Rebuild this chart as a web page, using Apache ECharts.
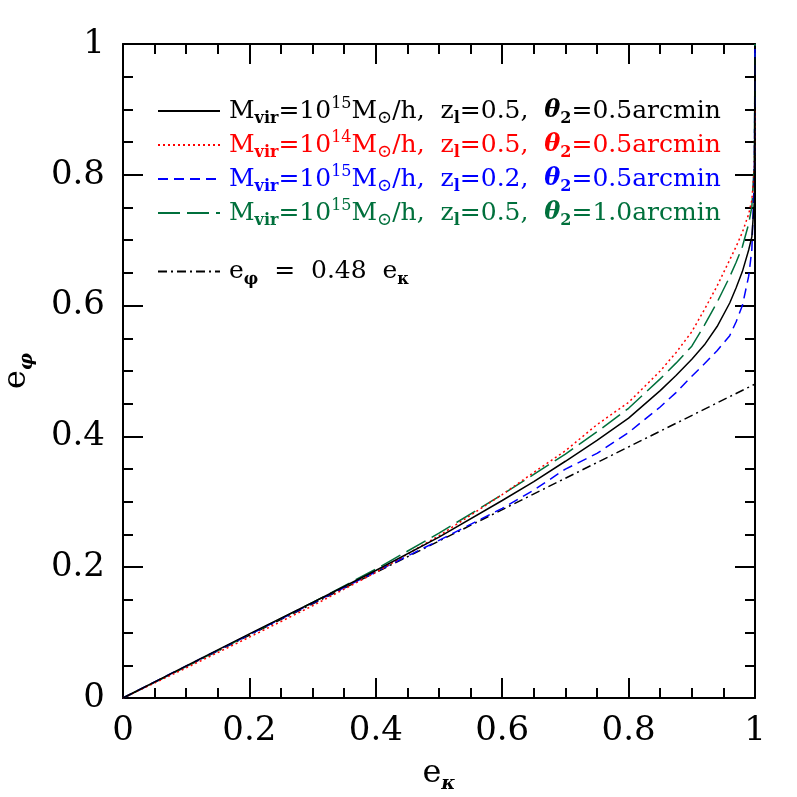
<!DOCTYPE html>
<html>
<head>
<meta charset="utf-8">
<script src="https://cdn.jsdelivr.net/npm/echarts@6/dist/echarts.min.js"></script>
<style>
  html, body { margin: 0; padding: 0; background: #fff; }
  #chart { width: 797px; height: 797px; }
</style>
</head>
<body>
<div id="chart"></div>
<script>
// e_kappa samples shared by the four model curves
const ekValues = [0, 0.1, 0.2, 0.3, 0.4, 0.5, 0.6, 0.65, 0.7, 0.75, 0.8, 0.85, 0.875, 0.9, 0.92, 0.94, 0.96, 0.97, 0.98, 0.99, 0.995, 0.999, 1];

// e_phi
const blackSolid = [0, 0.049, 0.098, 0.146, 0.195, 0.246, 0.302, 0.331, 0.362, 0.394, 0.428, 0.470, 0.493, 0.518, 0.540, 0.568, 0.604, 0.627, 0.652, 0.685, 0.705, 0.76, 0.98];
const redDotted  = [0, 0.046, 0.093, 0.141, 0.192, 0.248, 0.311, 0.345, 0.378, 0.418, 0.452, 0.500, 0.528, 0.560, 0.594, 0.630, 0.670, 0.690, 0.712, 0.740, 0.761, 0.81, 0.90];
const blueDashed = [0, 0.049, 0.097, 0.145, 0.193, 0.241, 0.290, 0.318, 0.350, 0.374, 0.406, 0.445, 0.467, 0.492, 0.511, 0.531, 0.554, 0.575, 0.600, 0.645, 0.685, 0.80, 1.0];
const greenLong  = [0, 0.048, 0.097, 0.146, 0.197, 0.252, 0.311, 0.342, 0.373, 0.407, 0.443, 0.488, 0.512, 0.538, 0.570, 0.605, 0.644, 0.666, 0.690, 0.725, 0.751, 0.82, 1.0];

// e_phi = 0.48 e_kappa
const fitX = [0, 1];
const fitY = [0, 0.48];

const xTicks = [0, 0.2, 0.4, 0.6, 0.8, 1];
const yTicks = [0, 0.2, 0.4, 0.6, 0.8, 1];

const serif = "DejaVu Serif";

const toPairs = (xs, ys) => xs.map((x, i) => [x, ys[i]]);

const legendLabels = {
  m15z05t05: "{t|M}{sub|vir}{t|=10}{sup|15}{t|M}{sub2|⊙}{t|/h,  z}{sub|l}{t|=0.5,  }{th|θ}{sub|2}{t|=0.5arcmin}",
  m14z05t05: "{t|M}{sub|vir}{t|=10}{sup|14}{t|M}{sub2|⊙}{t|/h,  z}{sub|l}{t|=0.5,  }{th|θ}{sub|2}{t|=0.5arcmin}",
  m15z02t05: "{t|M}{sub|vir}{t|=10}{sup|15}{t|M}{sub2|⊙}{t|/h,  z}{sub|l}{t|=0.2,  }{th|θ}{sub|2}{t|=0.5arcmin}",
  m15z05t10: "{t|M}{sub|vir}{t|=10}{sup|15}{t|M}{sub2|⊙}{t|/h,  z}{sub|l}{t|=0.5,  }{th|θ}{sub|2}{t|=1.0arcmin}",
  fit: "{t|e}{sub|φ}{t|  =  0.48  e}{sub|κ}"
};

const rich = {
  t: { fontFamily: serif, fontSize: 25, lineHeight: 32, verticalAlign: "middle" },
  sub: { fontFamily: serif, fontSize: 16, fontWeight: "bold", lineHeight: 32, verticalAlign: "bottom" },
  sub2: { fontFamily: serif, fontSize: 18, lineHeight: 32, verticalAlign: "bottom" },
  sup: { fontFamily: serif, fontSize: 16, lineHeight: 32, verticalAlign: "top", padding: [1, 0, 0, 0] },
  th: { fontFamily: serif, fontSize: 24, fontStyle: "italic", fontWeight: "bold", lineHeight: 32, verticalAlign: "middle" }
};

const chart = echarts.init(document.getElementById("chart"));

const axisCommon = {
  type: "value",
  min: 0,
  max: 1,
  interval: 0.2,
  axisLine: { show: true, onZero: false, lineStyle: { color: "#000", width: 2 } },
  axisTick: { show: true, inside: true, length: 20, lineStyle: { color: "#000", width: 2 } },
  minorTick: { show: true, splitNumber: 4, length: 10, lineStyle: { color: "#000", width: 2 } },
  splitLine: { show: false }
};

const nameRich = {
  e: { fontFamily: serif, fontSize: 32, color: "#000", verticalAlign: "middle", lineHeight: 40 },
  s: { fontFamily: serif, fontSize: 19, fontWeight: "bold", fontStyle: "italic", color: "#000", verticalAlign: "bottom", lineHeight: 40 }
};

const tickFormatter = ticks => v => {
  const r = Math.round(v * 10) / 10;
  return ticks.indexOf(r) >= 0 ? String(r) : "";
};

chart.setOption({
  animation: false,
  backgroundColor: "#fff",
  grid: { left: 123, right: 42, top: 44, bottom: 99, containLabel: false, outerBoundsMode: "none" },
  xAxis: [
    Object.assign({}, axisCommon, {
      position: "bottom",
      name: "{e|e}{s|κ}",
      nameLocation: "middle",
      nameGap: 56,
      nameTextStyle: { rich: nameRich },
      axisLabel: { margin: 16, fontFamily: serif, fontSize: 34, color: "#000", formatter: tickFormatter(xTicks) }
    }),
    Object.assign({}, axisCommon, { position: "top", axisLabel: { show: false } })
  ],
  yAxis: [
    Object.assign({}, axisCommon, {
      position: "left",
      name: "{e|e}{s|φ}",
      nameLocation: "middle",
      nameGap: 86,
      nameTextStyle: { rich: nameRich },
      axisLabel: { margin: 18, fontFamily: serif, fontSize: 34, color: "#000", formatter: tickFormatter(yTicks) }
    }),
    Object.assign({}, axisCommon, { position: "right", axisLabel: { show: false } })
  ],
  legend: [
    {
      orient: "vertical",
      left: 152,
      top: 90,
      itemWidth: 62,
      itemHeight: 14,
      itemGap: 2,
      selectedMode: false,
      itemStyle: { opacity: 0 },
      formatter: name => legendLabels[name],
      textStyle: { rich: rich, padding: [0, 0, 0, 4] },
      data: [
        { name: "m15z05t05", textStyle: { color: "#000" } },
        { name: "m14z05t05", textStyle: { color: "#ff0000" } },
        { name: "m15z02t05", textStyle: { color: "#0000ff" } },
        { name: "m15z05t10", textStyle: { color: "#00703c" } }
      ]
    },
    {
      orient: "vertical",
      left: 152,
      top: 254,
      itemWidth: 62,
      itemHeight: 14,
      selectedMode: false,
      itemStyle: { opacity: 0 },
      formatter: name => legendLabels[name],
      textStyle: { rich: rich, padding: [0, 0, 0, 4] },
      data: [{ name: "fit", textStyle: { color: "#000" } }]
    }
  ],
  series: [
    {
      name: "fit",
      type: "line",
      data: toPairs(fitX, fitY),
      symbol: "none",
      lineStyle: { color: "#000", width: 1.5, type: [9, 4, 2, 4] },
      itemStyle: { color: "#000" }
    },
    {
      name: "m15z05t10",
      type: "line",
      data: toPairs(ekValues, greenLong),
      symbol: "none",
      lineStyle: { color: "#00703c", width: 1.5, type: [22, 7] },
      itemStyle: { color: "#00703c" }
    },
    {
      name: "m15z02t05",
      type: "line",
      data: toPairs(ekValues, blueDashed),
      symbol: "none",
      lineStyle: { color: "#0000ff", width: 1.5, type: [10, 6] },
      itemStyle: { color: "#0000ff" }
    },
    {
      name: "m14z05t05",
      type: "line",
      data: toPairs(ekValues, redDotted),
      symbol: "none",
      lineStyle: { color: "#ff0000", width: 1.5, type: [2, 3] },
      itemStyle: { color: "#ff0000" }
    },
    {
      name: "m15z05t05",
      type: "line",
      data: toPairs(ekValues, blackSolid),
      symbol: "none",
      lineStyle: { color: "#000", width: 1.5, type: "solid" },
      itemStyle: { color: "#000" }
    }
  ]
});
</script>
</body>
</html>
